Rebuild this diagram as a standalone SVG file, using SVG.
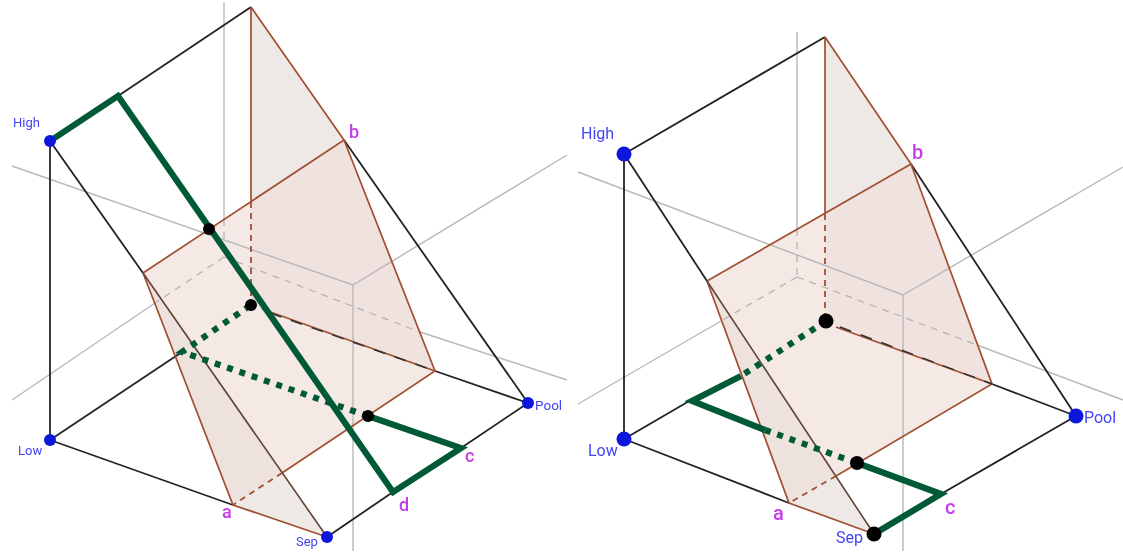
<svg xmlns="http://www.w3.org/2000/svg" width="1123" height="552" viewBox="0 0 1123 552">
<defs><filter id="soft" x="0" y="0" width="100%" height="100%" filterUnits="objectBoundingBox"><feGaussianBlur stdDeviation="0.55"/></filter></defs>
<style>
.ax{stroke:#b8b8b8;stroke-width:1.4;fill:none}
.axd{stroke:#b4b0ae;stroke-width:1.2;fill:none;stroke-dasharray:7 6}
.k{stroke:#222;stroke-width:1.8;fill:none}
.kb{stroke:#5f4335;stroke-width:1.6;fill:none}
.br{stroke:#a04f30;stroke-width:1.7;fill:none}
.brd{stroke:#a04f30;stroke-width:1.8;fill:none;stroke-dasharray:6 5}
.kd{stroke:#333;stroke-width:1.5;fill:none;stroke-dasharray:12 10}
.g{stroke:#065a35;stroke-width:6.2;fill:none;stroke-linejoin:miter}
.gd{stroke:#065a35;stroke-width:6.2;fill:none;stroke-dasharray:6 7}
.f1{fill:#f4e9e5}.f2{fill:#f0e2de}.f3{fill:#eee9e6}.f4{fill:#ede2de}
.pb{fill:#0a14dc}.pk{fill:#000}
text{font-family:Roboto,"Liberation Sans",sans-serif}
.tb{fill:#4444f5}.tm{fill:#c43ce8;font-weight:500}
</style>
<rect width="1123" height="552" fill="#fff"/>
<g filter="url(#soft)">
<g id="left-panel-faces">
<polygon class="f1" points="143,273 344,140 435,371 233,505"/>
<polygon class="f2" points="251,202 344,140 435,371 251,305"/>
<polygon class="f3" points="251,7 344,140 251,202"/>
<polygon class="f4" points="143,273 233,505 282,473"/>
<polygon class="f3" points="233,505 327,537 282,473"/>
</g>
<g id="right-panel-faces">
<polygon class="f1" points="707,281 911,164 992,384 789,503"/>
<polygon class="f2" points="825,214 911,164 992,384 825,321"/>
<polygon class="f3" points="825,37 911,164 825,214"/>
<polygon class="f4" points="707,281 789,503 836,476"/>
<polygon class="f3" points="789,503 874,534 836,476"/>
</g>
<g id="connectors">
<g id="left-axes">
<path class="ax" d="M224,2V219M12,166L353,285L567,155M353,285V551M12,400L155,303M420,332L567,380"/>
<path class="axd" d="M224,219V257M224,257L155,303M224,257L420,332"/>
</g>
<g id="right-axes">
<path class="ax" d="M797,32V229M578,172L903,295L1123,167M903,295V551M578,404L721,321M977,345L1123,400"/>
<path class="axd" d="M797,229V277M797,277L721,321M797,277L977,345"/>
</g>
<g id="left-frame">
<path class="k" d="M50,141V440M118,96L251,7M50,141L143,273M344,140L528,403M50,440L182,352M50,440L233,505M435,371L528,403M327,537L393,492M461,448L528,403"/>
<path class="br" d="M251,7L344,140M251,7V202M143,273L344,140L435,371L282,473M143,273L233,505L327,537"/>
<path class="kb" d="M143,273L327,537"/>
<path class="brd" d="M251,202V305M282,473L233,505"/>
<path class="br" d="M262,309L435,371"/>
<path class="kd" d="M270,313L435,371"/>
<path class="g" d="M50,141L118,96L393,492L461,448L368,416"/>
<path class="gd" d="M368,416L182,352L251,305"/>
</g>
<g id="right-frame">
<path class="k" d="M624,154V439M624,154L825,37M624,154L707,281M911,164L1076,416M624,439L691,400M624,439L789,503M992,384L1076,416M941,494L1076,416"/>
<path class="br" d="M825,37L911,164M825,37V214M707,281L911,164L992,384L836,476M707,281L789,503L874,534"/>
<path class="kb" d="M707,281L874,534"/>
<path class="brd" d="M825,214V321M836,476L789,503"/>
<path class="br" d="M836,327L992,384"/>
<path class="kd" d="M840,327L992,384"/>
<path class="g" d="M741,376L692,401L765,430M857,463L941,494L874,534"/>
<path class="gd" d="M765,430L857,463M826,321L741,376"/>
</g>
</g>
<g id="left-points">
<g id="l-high"><circle class="pb" cx="50" cy="141" r="6"/><text class="tb" x="13" y="127" font-size="13">High</text></g>
<g id="l-low"><circle class="pb" cx="50" cy="440" r="6"/><text class="tb" x="18" y="455" font-size="13">Low</text></g>
<g id="l-sep"><circle class="pb" cx="327" cy="537" r="6"/><text class="tb" x="296" y="546" font-size="13">Sep</text></g>
<g id="l-pool"><circle class="pb" cx="528" cy="403" r="6"/><text class="tb" x="535" y="410" font-size="13.5">Pool</text></g>
<g id="l-a"><text class="tm" x="222" y="518" font-size="18">a</text></g>
<g id="l-b"><text class="tm" x="349" y="138" font-size="18">b</text></g>
<g id="l-c"><text class="tm" x="465" y="462" font-size="18">c</text></g>
<g id="l-d"><text class="tm" x="399" y="511" font-size="18">d</text></g>
<circle class="pk" cx="209" cy="229" r="6"/><circle class="pk" cx="251" cy="305" r="6"/><circle class="pk" cx="368" cy="416" r="6"/>
</g>
<g id="right-points">
<g id="r-high"><circle class="pb" cx="624" cy="154" r="7.5"/><text class="tb" x="581" y="139" font-size="16">High</text></g>
<g id="r-low"><circle class="pb" cx="624" cy="439" r="7.5"/><text class="tb" x="588" y="456" font-size="16">Low</text></g>
<g id="r-sep"><circle class="pk" cx="874" cy="534" r="7.5"/><text class="tb" x="836" y="543" font-size="16">Sep</text></g>
<g id="r-pool"><circle class="pb" cx="1076" cy="416" r="7.5"/><text class="tb" x="1084" y="423" font-size="16">Pool</text></g>
<g id="r-a"><text class="tm" x="773" y="520" font-size="20">a</text></g>
<g id="r-b"><text class="tm" x="912" y="159" font-size="20">b</text></g>
<g id="r-c"><text class="tm" x="945" y="514" font-size="20">c</text></g>
<circle class="pk" cx="826" cy="321" r="7.5"/><circle class="pk" cx="857" cy="463" r="7"/>
</g>
</g>
</svg>
